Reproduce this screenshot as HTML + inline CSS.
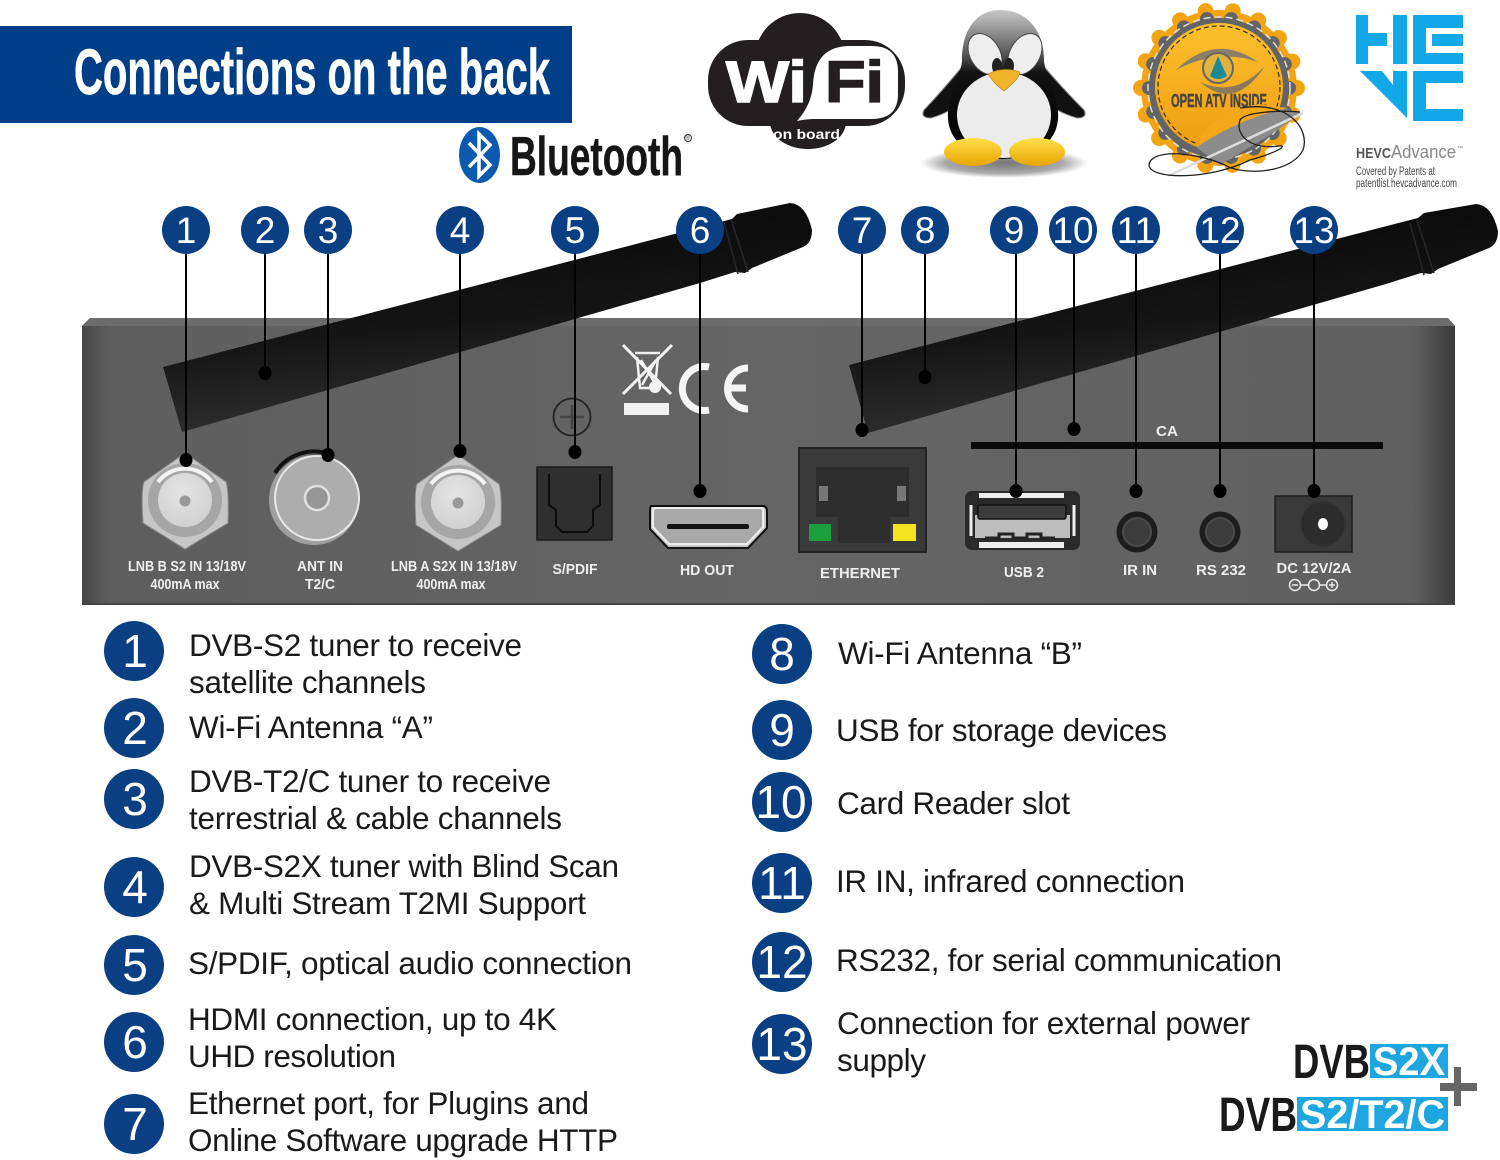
<!DOCTYPE html>
<html><head><meta charset="utf-8"><style>
html,body{margin:0;padding:0;background:#fff;width:1500px;height:1160px;overflow:hidden}
svg{display:block}
text{font-family:"Liberation Sans",sans-serif}
.t{font-size:31.5px;fill:#1a1a1a}
.n{fill:#fff;text-anchor:middle}
.p{fill:#eee;font-size:15px;text-anchor:middle;font-weight:bold}
</style></head><body>
<svg width="1500" height="1160" viewBox="0 0 1500 1160" xmlns="http://www.w3.org/2000/svg">
<defs>
<linearGradient id="panel" x1="0" x2="1" y1="0" y2="0"><stop offset="0" stop-color="#454545"/><stop offset=".02" stop-color="#5e5e5e"/><stop offset=".5" stop-color="#656565"/><stop offset=".97" stop-color="#606060"/><stop offset="1" stop-color="#3a3a3a"/></linearGradient>
<linearGradient id="ant" x1="0" x2="0.27" y1="0" y2="1"><stop offset="0" stop-color="#050505"/><stop offset=".6" stop-color="#141414"/><stop offset="1" stop-color="#303030"/></linearGradient>
<radialGradient id="metal" cx=".45" cy=".35" r=".8"><stop offset="0" stop-color="#e4e4e4"/><stop offset="1" stop-color="#cdcdcd"/></radialGradient>
<radialGradient id="shadow"><stop offset="0" stop-color="#777"/><stop offset=".7" stop-color="#aaa"/><stop offset="1" stop-color="#fff"/></radialGradient>
<linearGradient id="gold" x1="0" x2="0" y1="0" y2="1"><stop offset="0" stop-color="#fbc02d"/><stop offset="1" stop-color="#ef9d12"/></linearGradient>
<linearGradient id="foot" x1="0" x2="0" y1="0" y2="1"><stop offset="0" stop-color="#ffe04a"/><stop offset="1" stop-color="#e8a400"/></linearGradient>
<linearGradient id="head" x1="0" x2="0" y1="0" y2="1"><stop offset="0" stop-color="#c8c8c8"/><stop offset=".3" stop-color="#555"/><stop offset=".42" stop-color="#111"/><stop offset="1" stop-color="#000"/></linearGradient>
</defs>

<!-- Title -->
<rect x="0" y="26" width="572" height="97" fill="#003f87"/>
<text x="74" y="94" fill="#fff" stroke="#fff" stroke-width=".7" font-size="64" font-weight="bold" textLength="476" lengthAdjust="spacingAndGlyphs">Connections on the back</text>

<!-- Bluetooth -->
<ellipse cx="479.500" cy="155" rx="20.500" ry="28" fill="#0a5bb0"/>
<path d="M469 143 L490 165 L479 176 L479 134 L490 145 L469 167" fill="none" stroke="#fff" stroke-width="3.500"/>
<text x="510" y="175" fill="#161616" stroke="#161616" stroke-width=".5" font-size="55" font-weight="bold" textLength="173" lengthAdjust="spacingAndGlyphs">Bluetooth</text>
<circle cx="688" cy="138" r="3.500" fill="none" stroke="#333"/>
<text x="685.500" y="140" font-size="6" fill="#333">®</text>

<!-- WiFi -->
<g>
<circle cx="800" cy="58" r="45" fill="#231f20"/>
<rect x="708" y="40" width="197" height="86" rx="40" fill="#231f20"/>
<ellipse cx="808" cy="122" rx="38" ry="27" fill="#231f20"/>
<path d="M850 46 H872 Q898 46 898 72 V94 Q898 119 872 119 H815 Q806 119 797 121 Q812 104 813 84 Q815 46 850 46Z" fill="#fff"/>
<text x="726" y="102" fill="#fff" stroke="#fff" stroke-width="1.500" font-size="58" font-weight="bold" textLength="81" lengthAdjust="spacingAndGlyphs">Wi</text>
<text x="825" y="102" fill="#231f20" stroke="#231f20" stroke-width="1.500" font-size="58" font-weight="bold" textLength="59" lengthAdjust="spacingAndGlyphs">Fi</text>
<text x="773" y="139" fill="#fff" font-size="14" font-weight="bold" textLength="67" lengthAdjust="spacingAndGlyphs">on board</text>
</g>

<!-- Penguin -->
<g>
<ellipse cx="1004" cy="163" rx="84" ry="15" fill="url(#shadow)"/>
<path d="M966 62 Q945 88 924 110 Q920 118 931 118 Q952 112 966 98Z" fill="#111" stroke="#888"/>
<path d="M1040 62 Q1062 88 1084 110 Q1088 118 1077 118 Q1056 112 1040 98Z" fill="#111" stroke="#888"/>
<path d="M1000 10 C975 10 962 32 962 60 C962 72 950 90 948 112 C946 138 965 157 1003 159 C1041 157 1060 138 1058 112 C1056 90 1044 72 1044 60 C1044 32 1028 10 1000 10Z" fill="url(#head)"/>
<ellipse cx="1004" cy="115" rx="47" ry="43" fill="#ececec"/>
<ellipse cx="985" cy="54" rx="15" ry="22" transform="rotate(-30 985 54)" fill="#eee" stroke="#444"/>
<ellipse cx="1025" cy="54" rx="15" ry="22" transform="rotate(30 1025 54)" fill="#eee" stroke="#444"/>
<ellipse cx="997" cy="66" rx="5" ry="8" fill="#222"/><ellipse cx="1009" cy="66" rx="5" ry="8" fill="#222"/>
<path d="M988 74 Q1003 66 1020 72 Q1020 78 1004 91 Q994 84 988 74Z" fill="#f0b429" stroke="#b07a10" stroke-width=".6"/>
<ellipse cx="973" cy="152" rx="29" ry="14" fill="url(#foot)"/>
<ellipse cx="1037" cy="152" rx="28" ry="14" fill="url(#foot)"/>
</g>

<!-- Badge -->
<g>
<circle cx="1219" cy="88" r="78" fill="#f3a412"/>
<circle cx="1219" cy="88" r="78" fill="none" stroke="#f3a412" stroke-width="16" stroke-linecap="round" stroke-dasharray="0 27.230"/>
<circle cx="1219" cy="88" r="70" fill="#636466"/>
<circle cx="1219" cy="88" r="70" fill="none" stroke="#636466" stroke-width="14" stroke-linecap="round" stroke-dasharray="0 24.430"/>
<circle cx="1219" cy="88" r="71" fill="none" stroke="#ddd" stroke-width="1.500" stroke-dasharray="7 4"/>
<circle cx="1219" cy="87" r="64" fill="url(#gold)"/>
<circle cx="1219" cy="87" r="61" fill="none" stroke="#33302a" stroke-width="1.200" stroke-dasharray="5 3"/>
<path d="M1176 70 Q1215 32 1258 62 Q1218 48 1176 70Z" fill="#8a8068"/>
<path d="M1200 82 Q1235 98 1265 66 Q1235 112 1200 82Z" fill="#8a7a5a"/>
<circle cx="1218" cy="68" r="15" fill="#e1b23d" stroke="#666" stroke-width="2"/>
<path d="M1218 56 L1227 76 Q1218 82 1210 76Z" fill="#1d8b96"/>
<text x="1171" y="107" fill="#4a4440" stroke="#4a4440" stroke-width=".5" font-size="18" font-weight="bold" textLength="96" lengthAdjust="spacingAndGlyphs">OPEN ATV INSIDE</text>
<path d="M1197 148 Q1205 115 1260 104 L1302 113 L1270 135 L1220 165Z" fill="#8c8c8c"/>
<path d="M1197 147 Q1205 115 1258 104 L1288 108 Q1240 118 1197 147Z" fill="#f6a719"/>
<path d="M1168 176 L1303 113" stroke="#ddd" stroke-width="2.500" fill="none"/>
<path d="M1240 108 C1290 100 1310 130 1303 150 C1290 175 1240 175 1225 165 C1190 150 1150 150 1149 165 C1150 180 1210 180 1250 160 C1285 150 1285 145 1280 146 C1250 150 1235 135 1240 120 C1245 112 1280 110 1300 112" fill="none" stroke="#222" stroke-width="1.300"/>
</g>

<!-- HEVC -->
<g fill="#12a7e6">
<path d="M1356 15H1368V33H1387V46H1368V64H1356Z"/>
<rect x="1393" y="15" width="14" height="49"/>
<path d="M1413 15H1463V28H1426V34H1463V46H1432V34H1426V53H1463V64H1413Z"/>
<path d="M1360 71H1382L1393 85V71H1407V118Z"/>
<path d="M1413 71H1463V83H1426V109H1463V121H1413Z"/>
</g>
<text x="1356" y="158" font-size="15" font-weight="bold" fill="#555" textLength="35" lengthAdjust="spacingAndGlyphs">HEVC</text>
<text x="1391" y="158" font-size="18" fill="#888" textLength="65" lengthAdjust="spacingAndGlyphs">Advance</text>
<text x="1457" y="150" font-size="6" fill="#777">™</text>
<text x="1356" y="175" font-size="11.500" fill="#444" textLength="79" lengthAdjust="spacingAndGlyphs">Covered by Patents at</text>
<text x="1356" y="187" font-size="11.500" fill="#444" textLength="101" lengthAdjust="spacingAndGlyphs">patentlist.hevcadvance.com</text>

<!-- Panel -->
<path d="M82 326 L90 318 H1448 L1455 326 V605 H82Z" fill="url(#panel)"/>
<path d="M90 318 H1448 L1455 326 H82Z" fill="#6c6c6c"/>
<rect x="82" y="603" width="1373" height="2" fill="#444"/>

<!-- Antennas -->
<g>
<path d="M163 367 L732 219 L737 214 L790 203 Q806 204 812 230 Q812 243 803 247 L752 268 L745 273 L735 272 L700 283 L182 432 Z" fill="url(#ant)"/>
<path d="M731 219 L748 272 M724 222 L738 274" stroke="#262626" stroke-width="1.500"/>
</g>
<g>
<path d="M849 365 L1418 218 L1424 213 L1476 204 Q1492 205 1498 231 Q1498 244 1489 248 L1438 269 L1431 274 L1421 273 L1386 284 L868 433 Z" fill="url(#ant)"/>
<path d="M1417 220 L1434 273 M1410 223 L1424 275" stroke="#262626" stroke-width="1.500"/>
</g>

<!-- Marks -->
<g stroke="#f2f2f2" fill="none">
<path d="M623 345 L671 394 M672 345 L623 394" stroke-width="3"/>
<path d="M635 353 H660 M637 357 L640 388 H655 L658 357 M641 360 L656 385 M656 360 L642 385" stroke-width="2.500"/>
</g>
<circle cx="655" cy="387" r="6" fill="#f2f2f2"/>
<rect x="624" y="403" width="45" height="12" fill="#f2f2f2"/>
<path d="M709 367 A22 22 0 1 0 709 410" fill="none" stroke="#f5f5f5" stroke-width="7"/>
<path d="M748 368 A20 20 0 0 0 748 409 M725 388 H746" fill="none" stroke="#f5f5f5" stroke-width="7"/>
<circle cx="572" cy="417" r="18.500" fill="none" stroke="#222" stroke-width="1.800"/>
<path d="M560 417 H584 M572 405 V429" stroke="#444" stroke-width="2.500"/>

<!-- CA bar -->
<rect x="971" y="442" width="412" height="7" fill="#0a0a0a"/>
<text x="1156" y="436" fill="#eee" font-size="14.500" font-weight="bold" textLength="22" lengthAdjust="spacingAndGlyphs">CA</text>

<!-- LNB B -->
<g>
<path d="M185 453 L226 482 Q229 490 228 523 L185 549 L143 523 Q141 490 144 482Z" fill="#c6c6c6" stroke="#8a8a8a"/>
<circle cx="185" cy="500" r="37" fill="#a6a6a6"/>
<path d="M158 482 A34 34 0 0 1 212 482" stroke="#f4f4f4" stroke-width="4" fill="none"/>
<circle cx="185" cy="500" r="27" fill="url(#metal)"/>
<circle cx="185" cy="501" r="5.500" fill="#999"/>
</g>
<g transform="translate(273,2)">
<path d="M185 453 L226 482 Q229 490 228 523 L185 549 L143 523 Q141 490 144 482Z" fill="#c6c6c6" stroke="#8a8a8a"/>
<circle cx="185" cy="500" r="37" fill="#a6a6a6"/>
<path d="M158 482 A34 34 0 0 1 212 482" stroke="#f4f4f4" stroke-width="4" fill="none"/>
<circle cx="185" cy="500" r="27" fill="url(#metal)"/>
<circle cx="185" cy="501" r="5.500" fill="#999"/>
</g>
<!-- ANT -->
<path d="M275 473 A46 46 0 0 1 329 454" fill="none" stroke="#111" stroke-width="4"/>
<circle cx="314" cy="500" r="45" fill="#9f9f9f"/>
<circle cx="317" cy="498" r="42" fill="#adadad" stroke="#e8e8e8" stroke-width="2"/>
<circle cx="317" cy="498" r="12" fill="#969696" stroke="#e0e0e0" stroke-width="2.500"/>

<!-- SPDIF -->
<rect x="537" y="467" width="75" height="73" fill="#2f2f2f" stroke="#1b1b1b" stroke-width="1.500"/>
<path d="M549 474 V505 L556 510 V526 L562 532 H587 L593 526 V510 L600 505 V474" fill="none" stroke="#0c0c0c" stroke-width="2"/>

<!-- HDMI -->
<path d="M651 506 H763 Q767 506 767 512 V528 L748 548 H668 L650 529 V512 Q650 506 651 506Z" fill="#c8c8c8" stroke="#111" stroke-width="2"/>
<path d="M653 511 Q653 508 656 508 H760 Q763 508 763 511 V527 L747 544 H669 L653 527Z" fill="#a9a9a9" stroke="#efefef" stroke-width="2"/>
<rect x="667" y="524" width="82" height="5" rx="2" fill="#111"/>

<!-- Ethernet -->
<rect x="799" y="448" width="127" height="104" fill="#3a3a3a" stroke="#222" stroke-width="2"/>
<path d="M816 467 H909 V517 H890 V543 H838 V517 H816Z" fill="#2d2d2d"/>
<rect x="819" y="486" width="9" height="15" fill="#777"/>
<rect x="897" y="486" width="9" height="15" fill="#777"/>
<rect x="809" y="524" width="22" height="17" fill="#19a03a"/>
<rect x="893" y="524" width="23" height="17" fill="#f2e41e"/>

<!-- USB -->
<rect x="965" y="491" width="115" height="59" rx="7" fill="#2a2a2a"/>
<rect x="979" y="493" width="85" height="5" fill="#eee"/>
<rect x="979" y="542" width="85" height="6" fill="#eee"/>
<path d="M971 505 V536 M1074 505 V536" stroke="#eee" stroke-width="3"/>
<rect x="975" y="515" width="95" height="23" fill="#bdbdbd"/>
<rect x="978" y="505" width="88" height="14" rx="2" fill="#3c3c3c" stroke="#111" stroke-width="1.500"/>
<path d="M985 538 h14 v-4 h14 v4 h14 v-4 h14 v4 h14" stroke="#222" stroke-width="3" fill="none"/>

<!-- Jacks -->
<circle cx="1137" cy="532" r="20.500" fill="#1d1d1d"/><circle cx="1137" cy="532" r="14" fill="#3c3c3c" stroke="#4a4a4a" stroke-width="2"/>
<circle cx="1220" cy="532" r="20.500" fill="#1d1d1d"/><circle cx="1220" cy="532" r="14" fill="#3c3c3c" stroke="#4a4a4a" stroke-width="2"/>

<!-- DC -->
<rect x="1275" y="496" width="77" height="56" fill="#393939" stroke="#1d1d1d" stroke-width="1.500"/>
<circle cx="1323" cy="524" r="22" fill="#2c2c2c" stroke="#333"/>
<ellipse cx="1323" cy="524" rx="5" ry="6" fill="#fff"/>

<!-- Panel labels -->
<text class="p" x="187" y="571" textLength="118" lengthAdjust="spacingAndGlyphs">LNB B S2 IN 13/18V</text>
<text class="p" x="185" y="589" textLength="69" lengthAdjust="spacingAndGlyphs">400mA max</text>
<text class="p" x="320" y="571" textLength="46" lengthAdjust="spacingAndGlyphs">ANT IN</text>
<text class="p" x="320" y="589" textLength="30" lengthAdjust="spacingAndGlyphs">T2/C</text>
<text class="p" x="454" y="571" textLength="126" lengthAdjust="spacingAndGlyphs">LNB A S2X IN 13/18V</text>
<text class="p" x="451" y="589" textLength="69" lengthAdjust="spacingAndGlyphs">400mA max</text>
<text class="p" x="575" y="574" textLength="45" lengthAdjust="spacingAndGlyphs">S/PDIF</text>
<text class="p" x="707" y="575" textLength="54" lengthAdjust="spacingAndGlyphs">HD OUT</text>
<text class="p" x="860" y="578" textLength="80" lengthAdjust="spacingAndGlyphs">ETHERNET</text>
<text class="p" x="1024" y="577" textLength="40" lengthAdjust="spacingAndGlyphs">USB 2</text>
<text class="p" x="1140" y="575" textLength="34" lengthAdjust="spacingAndGlyphs">IR IN</text>
<text class="p" x="1221" y="575" textLength="50" lengthAdjust="spacingAndGlyphs">RS 232</text>
<text class="p" x="1314" y="573" textLength="75" lengthAdjust="spacingAndGlyphs">DC 12V/2A</text>
<g fill="none" stroke="#eee" stroke-width="1.500"><circle cx="1295" cy="585" r="5.500"/><circle cx="1314" cy="585" r="5.500"/><circle cx="1332" cy="585" r="5.500"/><path d="M1301 585H1308M1320 585H1326M1292 585H1298M1329 585H1335M1332 582V588"/></g>

<!-- Connector lines -->
<g stroke="#000" stroke-width="2">
<path d="M186 230V460M265 230V373M328 230V455M460 230V451M575 230V452M700 230V491M862 230V430M925 230V377M1016 230V491M1074 230V429M1136 230V491M1220 230V491M1314 230V491"/>
</g>
<g fill="#000">
<ellipse cx="186" cy="460" rx="6.500" ry="7"/><ellipse cx="265" cy="373" rx="6.500" ry="7"/><ellipse cx="328" cy="455" rx="6.500" ry="7"/><ellipse cx="460" cy="451" rx="6.500" ry="7"/><ellipse cx="575" cy="452" rx="6.500" ry="7"/><ellipse cx="700" cy="491" rx="6.500" ry="7"/><ellipse cx="862" cy="430" rx="6.500" ry="7"/><ellipse cx="925" cy="377" rx="6.500" ry="7"/><ellipse cx="1016" cy="491" rx="6.500" ry="7"/><ellipse cx="1074" cy="429" rx="6.500" ry="7"/><ellipse cx="1136" cy="491" rx="6.500" ry="7"/><ellipse cx="1220" cy="491" rx="6.500" ry="7"/><ellipse cx="1314" cy="491" rx="6.500" ry="7"/>
</g>

<!-- Top number circles -->
<g fill="#0a3f83">
<circle cx="186" cy="230" r="24"/><circle cx="265" cy="230" r="24"/><circle cx="328" cy="230" r="24"/><circle cx="460" cy="230" r="24"/><circle cx="575" cy="230" r="24"/><circle cx="700" cy="230" r="24"/><circle cx="862" cy="230" r="24"/><circle cx="925" cy="230" r="24"/><circle cx="1014" cy="230" r="24"/><circle cx="1073" cy="230" r="24"/><circle cx="1136" cy="230" r="24"/><circle cx="1220" cy="230" r="24"/><circle cx="1314" cy="230" r="24"/>
</g>
<g font-size="37">
<text class="n" x="186" y="243">1</text><text class="n" x="265" y="243">2</text><text class="n" x="328" y="243">3</text><text class="n" x="460" y="243">4</text><text class="n" x="575" y="243">5</text><text class="n" x="700" y="243">6</text><text class="n" x="862" y="243">7</text><text class="n" x="925" y="243">8</text><text class="n" x="1014" y="243">9</text><text class="n" x="1073" y="243">10</text><text class="n" x="1136" y="243">11</text><text class="n" x="1220" y="243">12</text><text class="n" x="1314" y="243">13</text>
</g>

<!-- Legend circles -->
<g fill="#0a3f83">
<circle cx="134" cy="651" r="30"/><circle cx="134" cy="728" r="30"/><circle cx="134" cy="799" r="30"/><circle cx="134" cy="887" r="30"/><circle cx="134" cy="965" r="30"/><circle cx="134" cy="1042" r="30"/><circle cx="134" cy="1124" r="30"/>
<circle cx="782" cy="654" r="30"/><circle cx="782" cy="730" r="30"/><circle cx="782" cy="802" r="30"/><circle cx="782" cy="883" r="30"/><circle cx="782" cy="962" r="30"/><circle cx="782" cy="1044" r="30"/>
</g>
<g font-size="46">
<text class="n" x="135" y="667">1</text><text class="n" x="135" y="744">2</text><text class="n" x="135" y="815">3</text><text class="n" x="135" y="903">4</text><text class="n" x="135" y="981">5</text><text class="n" x="135" y="1058">6</text><text class="n" x="135" y="1140">7</text>
<text class="n" x="782" y="670">8</text><text class="n" x="782" y="746">9</text><text class="n" x="781" y="818">10</text><text class="n" x="782" y="899">11</text><text class="n" x="782" y="978">12</text><text class="n" x="782" y="1060">13</text>
</g>

<!-- Legend text -->
<text class="t" x="189" y="656" textLength="333">DVB-S2 tuner to receive</text>
<text class="t" x="189" y="693" textLength="237">satellite channels</text>
<text class="t" x="189" y="738" textLength="244">Wi-Fi Antenna “A”</text>
<text class="t" x="189" y="792" textLength="362">DVB-T2/C tuner to receive</text>
<text class="t" x="189" y="829" textLength="373">terrestrial &amp; cable channels</text>
<text class="t" x="189" y="877" textLength="430">DVB-S2X tuner with Blind Scan</text>
<text class="t" x="189" y="914" textLength="397">&amp; Multi Stream T2MI Support</text>
<text class="t" x="188" y="974" textLength="444">S/PDIF, optical audio connection</text>
<text class="t" x="188" y="1030" textLength="369">HDMI connection, up to 4K</text>
<text class="t" x="188" y="1067" textLength="208">UHD resolution</text>
<text class="t" x="188" y="1114" textLength="401">Ethernet port, for Plugins and</text>
<text class="t" x="188" y="1151" textLength="430">Online Software upgrade HTTP</text>

<text class="t" x="838" y="664" textLength="244">Wi-Fi Antenna “B”</text>
<text class="t" x="836" y="741" textLength="331">USB for storage devices</text>
<text class="t" x="837" y="814" textLength="233">Card Reader slot</text>
<text class="t" x="836" y="892" textLength="349">IR IN, infrared connection</text>
<text class="t" x="836" y="971" textLength="446">RS232, for serial communication</text>
<text class="t" x="837" y="1034" textLength="413">Connection for external power</text>
<text class="t" x="837" y="1071" textLength="89">supply</text>

<!-- DVB logos -->
<rect x="1370" y="1044" width="78" height="34" fill="#1ea6e0"/>
<rect x="1297" y="1097" width="151" height="34" fill="#1ea6e0"/>
<text x="1293" y="1078" font-size="48" font-weight="bold" fill="#1a1a1a" textLength="77" lengthAdjust="spacingAndGlyphs">DVB</text>
<text x="1219" y="1131" font-size="48" font-weight="bold" fill="#1a1a1a" textLength="78" lengthAdjust="spacingAndGlyphs">DVB</text>
<text x="1373" y="1075" font-size="40" font-weight="bold" fill="#fff" textLength="72" lengthAdjust="spacingAndGlyphs">S2X</text>
<text x="1300" y="1128" font-size="40" font-weight="bold" fill="#fff" textLength="145" lengthAdjust="spacingAndGlyphs">S2/T2/C</text>
<path d="M1454 1067H1461V1083H1477V1091H1461V1106H1454V1091H1440V1083H1454Z" fill="#666"/>
</svg>
</body></html>
